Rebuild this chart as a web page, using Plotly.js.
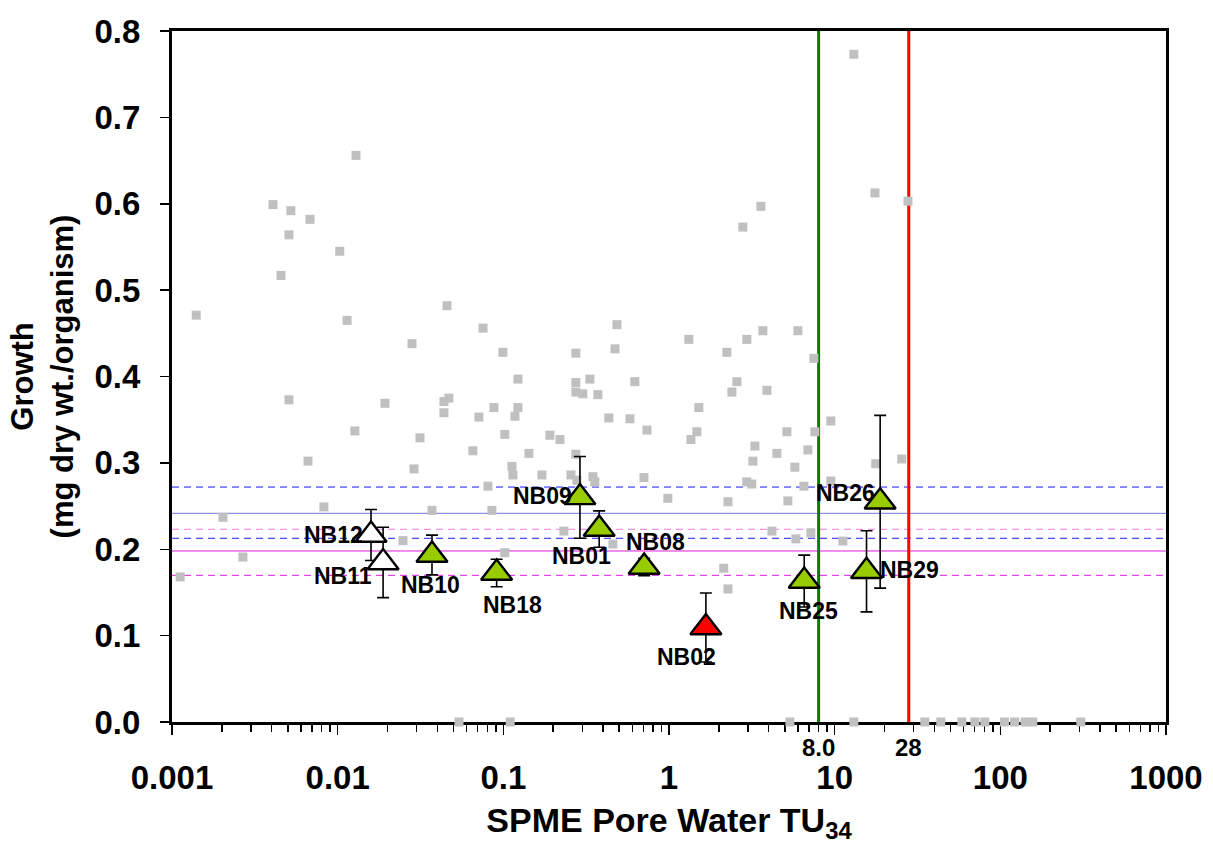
<!DOCTYPE html>
<html><head><meta charset="utf-8">
<script src="https://cdn.plot.ly/plotly-3.0.1.min.js"></script>
<style>html,body{margin:0;padding:0;background:#fff}#chart{width:1213px;height:844px}</style>
</head><body><div id="chart"></div>
<script>
// ---------- DATA ----------
// background (other stations) points: SPME pore water TU34 vs growth
const grayTU = [0.00112,0.0014,0.00203,0.00268,0.00407,0.00522,0.00681,0.00508,0.0103,0.00455,
  0.0114,0.0129,0.0281,0.00508,0.0193,0.0127,0.00662,0.00826,0.0314,0.0289,
  0.0371,0.0248,0.0457,0.0754,0.0994,0.274,0.485,0.472,1.318,0.1225,
  0.274,0.333,0.274,0.302,0.372,0.622,0.0469,0.0438,0.0438,0.0877,
  0.1225,0.1175,0.0712,0.4335,0.581,1.514,0.736,1.473,1.356,0.102,
  0.191,0.2196,0.0655,0.1427,0.274,0.1127,0.1143,0.171,0.256,0.278,
  0.3475,0.357,0.706,0.0807,0.984,0.0853,0.232,0.4585,0.102,0.054,
  0.110,2.95,3.687,5.998,2.235,7.49,2.57,2.397,3.9,5.146,
  7.59,3.30,4.48,6.89,3.21,5.75,2.95,3.16,6.52,9.48,
  2.27,5.22,4.18,5.83,7.18,11.2,2.14,2.27,2.79,3.586,
  17.5,27.7,13.06,9.48,17.7,25.4,
  5.37,13.06,35.0,43.7,58.6,70.2,80.6,106,122,141,157,306];
const grayGrowth = [0.168,0.471,0.237,0.191,0.599,0.592,0.582,0.564,0.545,0.517,
  0.465,0.656,0.438,0.373,0.369,0.337,0.302,0.249,0.329,0.293,
  0.245,0.210,0.482,0.456,0.428,0.427,0.460,0.432,0.443,0.397,
  0.393,0.397,0.382,0.380,0.379,0.394,0.375,0.371,0.358,0.364,
  0.364,0.354,0.353,0.352,0.351,0.364,0.338,0.336,0.327,0.333,
  0.332,0.327,0.314,0.311,0.310,0.296,0.286,0.286,0.286,0.280,
  0.284,0.278,0.283,0.273,0.259,0.245,0.221,0.206,0.196,0,
  0,0.443,0.453,0.453,0.428,0.421,0.394,0.382,0.384,0.336,
  0.336,0.3195,0.311,0.315,0.302,0.295,0.278,0.2755,0.273,0.279,
  0.255,0.256,0.221,0.212,0.219,0.2095,0.178,0.154,0.573,0.597,
  0.6125,0.603,0.773,0.3485,0.299,0.3045,
  0,0,0,0,0,0,0,0,0,0,0,0];

// study stations
const siteNames  = ['NB12','NB11','NB10','NB18','NB09','NB01','NB08','NB02','NB25','NB29','NB26'];
const siteTU     = [0.0159,0.0188,0.0371,0.0911,0.29,0.379,0.708,1.67,6.55,15.57,18.82];
const siteGrowth = [0.2165,0.1847,0.1933,0.1725,0.260,0.2234,0.1795,0.1094,0.1632,0.1745,0.255];
const siteSD     = [0.0295,0.0407,0.023,0.016,0.0473,0.021,0.01,0.040,0.030,0.047,0.10];
const siteClass  = ['reference','reference','test','test','test','test','test','toxic','test','test','test'];

// reference growth levels and TU thresholds
const refLevels = [0.272,0.2416,0.2231,0.2127,0.198,0.1698];
const tuThresholds = [8.0, 28];
const tuThresholdLabels = ['8.0','28'];

const xTickVals = [0.001,0.01,0.1,1,10,100,1000];
const xTickText = ['0.001','0.01','0.1','1','10','100','1000'];

// ---------- STYLES ----------
const FONT = 'Liberation Sans, Arial, sans-serif';
const refStyles = [
  {color:'#1a1aff', width:1, dash:'7px,5px'},
  {color:'#7373e6', width:1, dash:'solid'},
  {color:'#f07af0', width:1, dash:'7px,5px'},
  {color:'#1a1aff', width:1, dash:'7px,5px'},
  {color:'#e01be0', width:1, dash:'solid'},
  {color:'#e01be0', width:1, dash:'7px,5px'}
];
const thresholdColors = ['#008000','#ff0000'];
const classColors = {reference:'#ffffff', test:'#99cc00', toxic:'#ff0000'};
const labelOffsets = {
  NB12:[-38,0], NB11:[-40,-14], NB10:[-1,-30], NB18:[16,-32], NB09:[-37,1],
  NB01:[-18,-27], NB08:[11,25], NB02:[-19,-29], NB25:[4,-30], NB26:[-35,9], NB29:[43,1]
};

// ---------- TRACES ----------
const traces = [];
refLevels.forEach((lvl,i)=>{
  traces.push({x:[xTickVals[0], xTickVals[xTickVals.length-1]], y:[lvl,lvl], mode:'lines',
    line:refStyles[i], hoverinfo:'skip', showlegend:false});
});
tuThresholds.forEach((t,i)=>{
  traces.push({x:[t,t], y:[0,0.8], mode:'lines',
    line:{color:thresholdColors[i], width:3}, hoverinfo:'skip', showlegend:false});
});
traces.push({x:grayTU, y:grayGrowth, mode:'markers', cliponaxis:false,
  marker:{symbol:'square', size:9, color:'#c0c0c0'}, showlegend:false});

['reference','test','toxic'].forEach(cls=>{
  const idx = siteClass.map((c,i)=>c===cls?i:-1).filter(i=>i>=0);
  traces.push({
    x: idx.map(i=>siteTU[i]), y: idx.map(i=>siteGrowth[i]),
    text: idx.map(i=>siteNames[i]),
    mode:'markers', cliponaxis:false, showlegend:false,
    marker:{symbol:'triangle-up', size:27, color:classColors[cls], line:{color:'#000', width:2.4}},
    error_y:{type:'data', array: idx.map(i=>siteSD[i]), color:'#000', thickness:1.6, width:6}
  });
});

// ---------- ANNOTATIONS ----------
const annotations = siteNames.map((n,i)=>({
  x: Math.log10(siteTU[i]), y: siteGrowth[i], xref:'x', yref:'y', text:n, showarrow:false,
  xshift: labelOffsets[n][0], yshift: labelOffsets[n][1],
  xanchor:'center', yanchor:'middle',
  font:{family:FONT, size:23, color:'#000', weight:'bold'}
}));
tuThresholds.forEach((t,i)=>{
  annotations.push({x:Math.log10(t), y:0, xref:'x', yref:'paper', text:tuThresholdLabels[i],
    showarrow:false, xanchor:'center', yanchor:'middle', yshift:-25,
    font:{family:FONT, size:24, color:'#000', weight:'bold'}});
});

const layout = {
  width:1213, height:844,
  margin:{l:172, r:47, t:31, b:122},
  paper_bgcolor:'#fff', plot_bgcolor:'#fff',
  font:{family:FONT, color:'#000'},
  showlegend:false,
  xaxis:{
    type:'log', range:[-3,3], tickmode:'array', tickvals:xTickVals, ticktext:xTickText,
    ticks:'outside', ticklen:10, tickwidth:1.5, tickcolor:'#000',
    showline:true, linewidth:3, linecolor:'#000', mirror:true,
    showgrid:false, zeroline:false, layer:'below traces',
    minor:{ticks:'outside', ticklen:7, tickwidth:1.5, tickcolor:'#000', dtick:'D1', showgrid:false},
    tickfont:{family:FONT, size:33, weight:'bold'},
    ticklabelstandoff:14,
    title:{text:'SPME Pore Water TU<sub>34</sub>', font:{family:FONT, size:34, weight:'bold'}, standoff:17}
  },
  yaxis:{
    range:[0,0.8], dtick:0.1, tick0:0, tickformat:'.1f',
    ticks:'outside', ticklen:9, tickwidth:1.5, tickcolor:'#000',
    showline:true, linewidth:3, linecolor:'#000', mirror:true,
    showgrid:false, zeroline:false, layer:'below traces',
    tickfont:{family:FONT, size:33, weight:'bold'},
    ticklabelstandoff:13,
    title:{text:'Growth<br>(mg dry wt./organism)', font:{family:FONT, size:31, weight:'bold'}, standoff:12}
  },
  annotations: annotations
};

Plotly.newPlot('chart', traces, layout, {staticPlot:true, displayModeBar:false});
</script></body></html>
